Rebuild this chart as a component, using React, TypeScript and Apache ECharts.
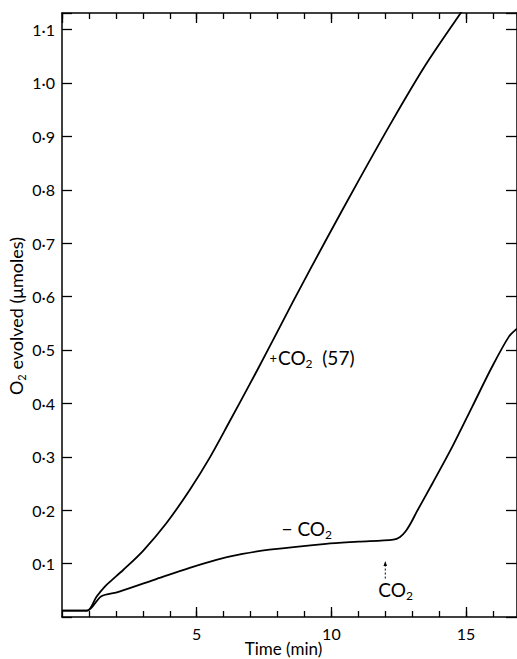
import React, { useEffect, useRef } from 'react';
import * as echarts from 'echarts';

// Axis ranges (minutes, µmoles)
const X_MIN = 0;
const X_MAX = 16.89;
const Y_MIN = 0;
const Y_MAX = 1.131;
const xLabelTicks = [5, 10, 15];
const yLabelTicks = [0.1, 0.2, 0.3, 0.4, 0.5, 0.6, 0.7, 0.8, 0.9, 1.0, 1.1];

// +CO2 (57) curve: [time (min), O2 evolved (µmoles)]
const plusCO2: number[][] = [
  [0, 0.012], [0.93, 0.012], [1.28, 0.038], [1.59, 0.057], [1.85, 0.069],
  [2.27, 0.088], [3.01, 0.124], [3.88, 0.176], [4.74, 0.238], [5.48, 0.298],
  [6.22, 0.366], [6.96, 0.435], [7.58, 0.494], [8.57, 0.59], [9.8, 0.706],
  [11.04, 0.82], [12.27, 0.93], [13.5, 1.034], [14.8, 1.131], [15.2, 1.16],
];

// -CO2 curve, CO2 added at 12 min
const minusCO2: number[][] = [
  [0, 0.012], [0.93, 0.012], [1.46, 0.039], [2.1, 0.047], [3.5, 0.071],
  [4.74, 0.092], [5.73, 0.107], [6.7, 0.118], [7.7, 0.126], [9.8, 0.137],
  [11.0, 0.141], [12.3, 0.145], [12.55, 0.15], [12.75, 0.16], [12.95, 0.176],
  [13.2, 0.2], [13.75, 0.25], [14.49, 0.319], [15.23, 0.394], [15.97, 0.469],
  [16.59, 0.525], [16.89, 0.54],
];

// Annotation anchors in data coordinates
const plusLabelAt = [7.7, 0.485];
const minusLabelAt = [8.15, 0.165];
const co2AddedTime = 12;
const arrowFromTo = [0.072, 0.105];
const co2LabelAt = [11.74, 0.052];

const FONT = 'Lato, "Open Sans", sans-serif';

const fmtY = (v: number) => {
  const r = Math.round(v * 10) / 10;
  if (Math.abs(v - r) > 1e-6 || r <= 0) return '';
  return yLabelTicks.some((t) => Math.abs(t - r) < 1e-6) ? r.toFixed(1).replace('.', '·') : '';
};
const fmtX = (v: number) => (xLabelTicks.some((t) => Math.abs(t - v) < 1e-6) ? String(v) : '');

const rich = {
  t: { fontSize: 19, fontFamily: FONT, color: '#000', lineHeight: 24 },
  p: { fontSize: 13, fontFamily: FONT, color: '#000', lineHeight: 24, padding: [0, 1, 0, 0] },
  s: { fontSize: 12, fontFamily: FONT, color: '#000', lineHeight: 12, verticalAlign: 'bottom' },
};

export default function App() {
  const ref = useRef<HTMLDivElement>(null);
  useEffect(() => {
    document.body.style.margin = '0';
    const el = ref.current!;
    const chart = echarts.init(el, null, { renderer: 'svg' });
    const lineStyle = { color: '#000', width: 1.5 };
    const tickStyle = { color: '#000', width: 1.3 };
    const baseX = { type: 'value', min: X_MIN, max: X_MAX, splitLine: { show: false } };
    const baseY = { type: 'value', min: Y_MIN, max: Y_MAX, interval: 0.1, splitLine: { show: false } };
    chart.setOption({
      animation: false,
      backgroundColor: '#fff',
      grid: { left: 62, top: 13, right: -1, bottom: 42, containLabel: false },
      xAxis: [
        {
          ...baseX, position: 'bottom', interval: 5,
          axisLine: { show: true, onZero: false, lineStyle },
          axisTick: { inside: true, length: 10, lineStyle: tickStyle },
          axisLabel: { formatter: fmtX, margin: 8, color: '#000', fontSize: 16, fontFamily: FONT, showMinLabel: false, showMaxLabel: false },
        },
        {
          ...baseX, position: 'bottom', interval: 1,
          axisLine: { show: false, onZero: false },
          axisTick: { inside: true, length: 6, lineStyle: tickStyle },
          axisLabel: { show: false },
        },
        {
          ...baseX, position: 'top', interval: 5,
          axisLine: { show: true, onZero: false, lineStyle },
          axisTick: { inside: true, length: 10, lineStyle: tickStyle },
          axisLabel: { show: false },
        },
        {
          ...baseX, position: 'top', interval: 1,
          axisLine: { show: false, onZero: false },
          axisTick: { inside: true, length: 6, lineStyle: tickStyle },
          axisLabel: { show: false },
        },
      ],
      yAxis: [
        {
          ...baseY, position: 'left',
          axisLine: { show: true, onZero: false, lineStyle },
          axisTick: { inside: true, length: 10, lineStyle: tickStyle },
          axisLabel: { formatter: fmtY, margin: 7, color: '#000', fontSize: 16, fontFamily: FONT },
        },
        {
          ...baseY, position: 'right',
          axisLine: { show: true, onZero: false, lineStyle },
          axisTick: { inside: true, length: 11, lineStyle: tickStyle },
          axisLabel: { show: false },
        },
      ],
      series: [
        {
          type: 'line', name: '+CO2 (57)', data: plusCO2, xAxisIndex: 0, yAxisIndex: 0,
          showSymbol: false, smooth: 0.3, clip: true,
          lineStyle: { color: '#000', width: 1.8 },
        },
        {
          type: 'line', name: '-CO2', data: minusCO2, xAxisIndex: 0, yAxisIndex: 0,
          showSymbol: false, smooth: 0.3, clip: true,
          lineStyle: { color: '#000', width: 1.8 },
        },
      ],
    });

    const px = (p: number[]) => chart.convertToPixel({ xAxisIndex: 0, yAxisIndex: 0 }, p) as number[];
    const pPlus = px(plusLabelAt);
    const pMinus = px(minusLabelAt);
    const aTop = px([co2AddedTime, arrowFromTo[1]]);
    const aBot = px([co2AddedTime, arrowFromTo[0]]);
    const pCo2 = px(co2LabelAt);
    const w = el.clientWidth;
    const h = el.clientHeight;

    chart.setOption({
      graphic: [
        {
          type: 'text', x: pPlus[0], y: pPlus[1],
          style: { text: '{p|+}{t|CO}{s|2}{t|  (57)}', rich, textAlign: 'left', textVerticalAlign: 'middle' },
        },
        {
          type: 'text', x: pMinus[0], y: pMinus[1],
          style: { text: '{t|− CO}{s|2}', rich, textAlign: 'left', textVerticalAlign: 'middle' },
        },
        {
          type: 'text', x: pCo2[0], y: pCo2[1],
          style: { text: '{t|CO}{s|2}', rich, textAlign: 'left', textVerticalAlign: 'middle' },
        },
        {
          type: 'line',
          shape: { x1: aBot[0], y1: aBot[1], x2: aTop[0], y2: aTop[1] + 3 },
          style: { stroke: '#000', lineWidth: 1, lineDash: [2, 2] },
        },
        {
          type: 'polygon',
          shape: { points: [[aTop[0] - 1.8, aTop[1] + 5], [aTop[0] + 1.8, aTop[1] + 5], [aTop[0], aTop[1]]] },
          style: { fill: '#000' },
        },
        {
          type: 'text', x: (62 + w) / 2 - 6, y: h - 11,
          style: { text: 'Time (min)', fontSize: 17, fontFamily: FONT, fill: '#000', textAlign: 'center', textVerticalAlign: 'middle' },
        },
        {
          type: 'text', x: 16, y: 316, rotation: Math.PI / 2,
          style: {
            text: '{a|O}{b|2}{a| evolved (μmoles)}',
            rich: {
              a: { fontSize: 18, fontFamily: FONT, color: '#000', lineHeight: 22 },
              b: { fontSize: 11, fontFamily: FONT, color: '#000', lineHeight: 12, verticalAlign: 'bottom' },
            },
            textAlign: 'center', textVerticalAlign: 'middle',
          },
        },
      ],
    });
    return () => chart.dispose();
  }, []);
  return <div ref={ref} style={{ position: 'absolute', left: 0, top: 0, width: 517, height: 659, overflow: 'hidden' }} />;
}
